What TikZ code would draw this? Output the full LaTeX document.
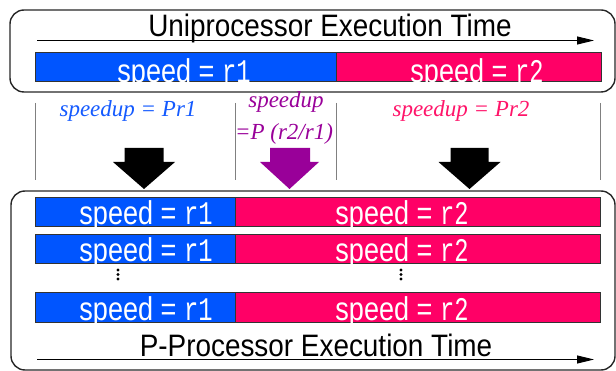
\documentclass[tikz,border=0pt]{standalone}
\usepackage{fontspec}
\setmainfont{Liberation Sans}
\newfontfamily\titlef[FakeStretch=0.9]{Liberation Sans}
\newfontfamily\barf[FakeStretch=0.82]{Liberation Sans}
\newfontfamily\monof[FakeStretch=0.72]{Liberation Mono}
\newfontfamily\seriff{Liberation Serif}
\usetikzlibrary{arrows.meta}
\definecolor{cblue}{RGB}{0,85,255}
\definecolor{cpink}{RGB}{255,0,102}
\definecolor{cpurple}{RGB}{153,0,153}
\definecolor{lblue}{RGB}{20,90,255}
\definecolor{lpink}{RGB}{255,20,105}
\tikzset{
  frame/.style={draw=black!85, line width=1.4pt, rounded corners=14pt},
  barbox/.style={draw=black!80, line width=0.8pt, anchor=north west, inner sep=0pt, minimum height=#1},
  bluebar/.style={barbox=29.5pt, fill=cblue},
  pinkbar/.style={barbox=29.5pt, fill=cpink},
  speedtxt/.style={anchor=base, text=white, inner sep=0pt, font=\barf\fontsize{33}{33}\selectfont},
  titletxt/.style={anchor=base, inner sep=0pt, font=\titlef\fontsize{31}{31}\selectfont},
  lbl/.style={anchor=base, inner sep=0pt, font=\seriff\itshape\fontsize{23}{23}\selectfont},
  timearrow/.style={draw=black, line width=1pt, -{Triangle[length=17pt,width=8pt]}},
  sep/.style={draw=black!50, line width=0.8pt},
  dot/.style={fill=black, draw=none}
}
\begin{document}
\begin{tikzpicture}[x=1pt,y=-1pt]
\useasboundingbox (0,0) rectangle (616,371);
\clip (0,0) rectangle (616,371);

% top frame
\draw[frame] (10,10) rectangle (615,92);
\node[titletxt] (ttop) at (330,37) {Uniprocessor Execution Time};
\coordinate (ta1) at (37,40.5);
\coordinate (ta2) at (594,40.5);
\draw[timearrow] (ta1) -- (ta2);

\node[bluebar, minimum width=301pt] (u1) at (35,52) {};
\node[pinkbar, minimum width=265pt] (u2) at (336,52) {};
\node[speedtxt] (u1t) at (184,82.5) {speed = {\monof r1}};
\node[speedtxt] (u2t) at (477,82.5) {speed = {\monof r2}};

% separators
\foreach \x/\n in {35/a,235/b,336/c,600/d}{
  \coordinate (s\n1) at (\x,103);
  \coordinate (s\n2) at (\x,180);
  \draw[sep] (s\n1) -- (s\n2);
}

% labels
\node[lbl, text=lblue] (l1) at (128,117) {speedup = Pr1};
\node[lbl, text=cpurple] (l2a) at (286,107.5) {speedup};
\node[lbl, text=cpurple] (l2b) at (284,139.5) {=P (r2/r1)};
\node[lbl, text=lpink] (l3) at (461,117) {speedup = Pr2};

% block arrows
\fill[black] (124.5,148) -- (163.5,148) -- (163.5,162) -- (175,162) -- (144,189) -- (113,162) -- (124.5,162) -- cycle;
\fill[cpurple] (270,148) -- (310,148) -- (310,162) -- (319,162) -- (289.5,189) -- (260,162) -- (270,162) -- cycle;
\fill[black] (450.5,148) -- (488.5,148) -- (488.5,162) -- (500.5,162) -- (469.5,189) -- (438.5,162) -- (450.5,162) -- cycle;

% bottom frame
\draw[frame] (11,191) rectangle (615,370);

\node[bluebar, minimum width=200pt] (p1a) at (35,197) {};
\node[pinkbar, minimum width=365pt] (p1b) at (235,197) {};
\node[bluebar, minimum width=200pt] (p2a) at (35,234) {};
\node[pinkbar, minimum width=365pt] (p2b) at (235,234) {};
\node[bluebar, minimum width=200pt] (p3a) at (35,292.5) {};
\node[pinkbar, minimum width=365pt] (p3b) at (235,292.5) {};

\node[speedtxt] (p1at) at (146,224.5) {speed = {\monof r1}};
\node[speedtxt] (p1bt) at (402,224.5) {speed = {\monof r2}};
\node[speedtxt] (p2at) at (146,261.5) {speed = {\monof r1}};
\node[speedtxt] (p2bt) at (402,261.5) {speed = {\monof r2}};
\node[speedtxt] (p3at) at (146,320.5) {speed = {\monof r1}};
\node[speedtxt] (p3bt) at (402,320.5) {speed = {\monof r2}};

% vertical dots
\foreach \x in {118,401}{
  \foreach \y in {270,274.5,279}{
    \fill[dot] (\x,\y) circle (1.6pt);
  }
}

\node[titletxt] (tbot) at (316,356) {P-Processor Execution Time};
\coordinate (tb1) at (37,359.5);
\coordinate (tb2) at (594,359.5);
\draw[timearrow] (tb1) -- (tb2);
\end{tikzpicture}
\end{document}
